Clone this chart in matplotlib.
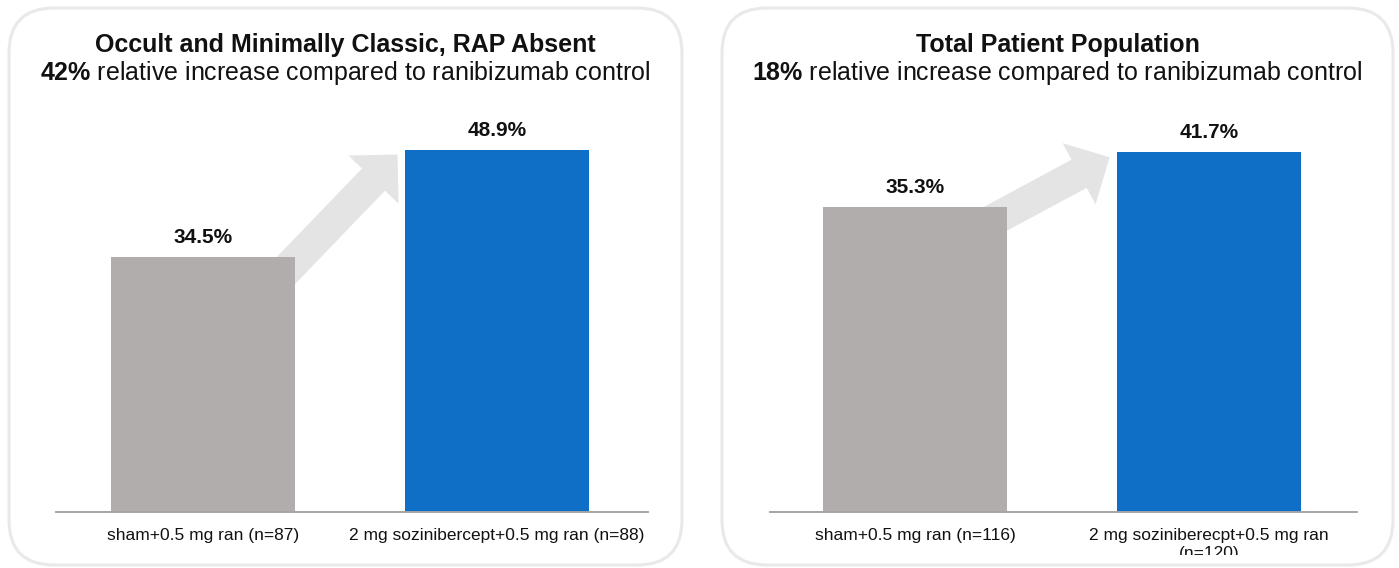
import matplotlib
matplotlib.use("Agg")
import matplotlib.pyplot as plt
from matplotlib.patches import FancyBboxPatch
from matplotlib.transforms import Bbox, TransformedBbox

plt.rcParams['font.family'] = ['Liberation Sans', 'DejaVu Sans']
plt.rcParams['mathtext.fontset'] = 'custom'
plt.rcParams['mathtext.rm'] = 'Liberation Sans'
plt.rcParams['mathtext.bf'] = 'Liberation Sans:bold'

# data
titles = ['Occult and Minimally Classic, RAP Absent', 'Total Patient Population']
rel_increase = ['42%', '18%']
labels_left = ['sham+0.5 mg ran (n=87)', '2 mg sozinibercept+0.5 mg ran (n=88)']
labels_right = ['sham+0.5 mg ran (n=116)', '2 mg soziniberecpt+0.5 mg ran\n(n=120)']
values_left = [34.5, 48.9]
values_right = [35.3, 41.7]

GRAY = '#b0adac'
BLUE = '#0f6fc6'
ARROW = '#e4e4e4'
BORDER = '#e9e9e9'

W, H = 1399, 568
fig = plt.figure(figsize=(W / 100, H / 100), dpi=100)

# rounded panel frames (in inches so the corners stay round)
for x0, x1 in [(9, 682), (722, 1393)]:
    box = FancyBboxPatch((x0 / 100, (H - 565) / 100), (x1 - x0) / 100, 557 / 100,
                         boxstyle='round,pad=0,rounding_size=0.45',
                         transform=fig.dpi_scale_trans, facecolor='white',
                         edgecolor=BORDER, linewidth=2.2, zorder=-5)
    fig.patches.append(box)

bar_w = 0.626
panels = [
    dict(px=(56, 648), xlim=(-0.5, 1.514), ytop=55.0, vals=values_left,
         labels=labels_left, cx=345.5),
    dict(px=(770, 1357), xlim=(-0.493, 1.503), ytop=407 / 8.63, vals=values_right,
         labels=labels_right, cx=1057.5),
]

for i, p in enumerate(panels):
    x0, x1 = p['px']
    ax = fig.add_axes([x0 / W, (H - 512) / H, (x1 - x0) / W, 407 / H])
    ax.patch.set_visible(False)
    vals = p['vals']
    ax.bar([0, 1], vals, width=bar_w, color=[GRAY, BLUE], zorder=3)
    ax.set_xlim(*p['xlim'])
    ax.set_ylim(0, p['ytop'])
    for s in ['top', 'right', 'left']:
        ax.spines[s].set_visible(False)
    ax.spines['bottom'].set_color('#a5a5a5')
    ax.spines['bottom'].set_linewidth(1.4)
    ax.spines['bottom'].set_zorder(4)
    ax.set_yticks([])
    ax.set_xticks([0, 1])
    ax.set_xticklabels(p['labels'], fontsize=12.5, color='#111111', linespacing=1.25)
    ax.tick_params(axis='x', length=0, pad=11.5)

    # value labels
    for x, v in zip([0, 1], vals):
        ax.annotate(f'{v}%', xy=(x, v), xytext=(0, 10), textcoords='offset points',
                    ha='center', va='baseline', fontsize=15, fontweight='bold',
                    color='#111111')

    # arrow from the control bar to the treatment bar
    sx, sy = bar_w / 2, vals[0] - 0.6
    tx, ty = 1 - bar_w / 2 - 0.025, vals[1] - 0.6
    tail = (sx - 0.6 * (tx - sx), sy - 0.6 * (ty - sy))
    ax.annotate('', xy=(tx, ty), xytext=tail,
                arrowprops=dict(arrowstyle='simple,head_length=2.5,head_width=5.0,tail_width=2.3',
                                mutation_scale=10, color=ARROW, shrinkA=0, shrinkB=0,
                                linewidth=0),
                zorder=1)

    # titles
    fig.text(p['cx'] / W, (H - 52) / H, titles[i], ha='center', va='baseline',
             fontsize=18, fontweight='bold', color='#111111')
    fig.text(p['cx'] / W, (H - 80) / H,
             r'$\mathbf{' + rel_increase[i].replace('%', r'\%') + '}$'
             + ' relative increase compared to ranibizumab control',
             ha='center', va='baseline', fontsize=18, color='#111111')

    if i == 1:
        clip = TransformedBbox(Bbox([[0, (H - 555) / H], [1, 1]]), fig.transFigure)
        for lab in ax.get_xticklabels():
            lab.set_clip_on(True)
            lab.set_clip_box(clip)

fig.savefig('out.png', dpi=100, facecolor='white')
